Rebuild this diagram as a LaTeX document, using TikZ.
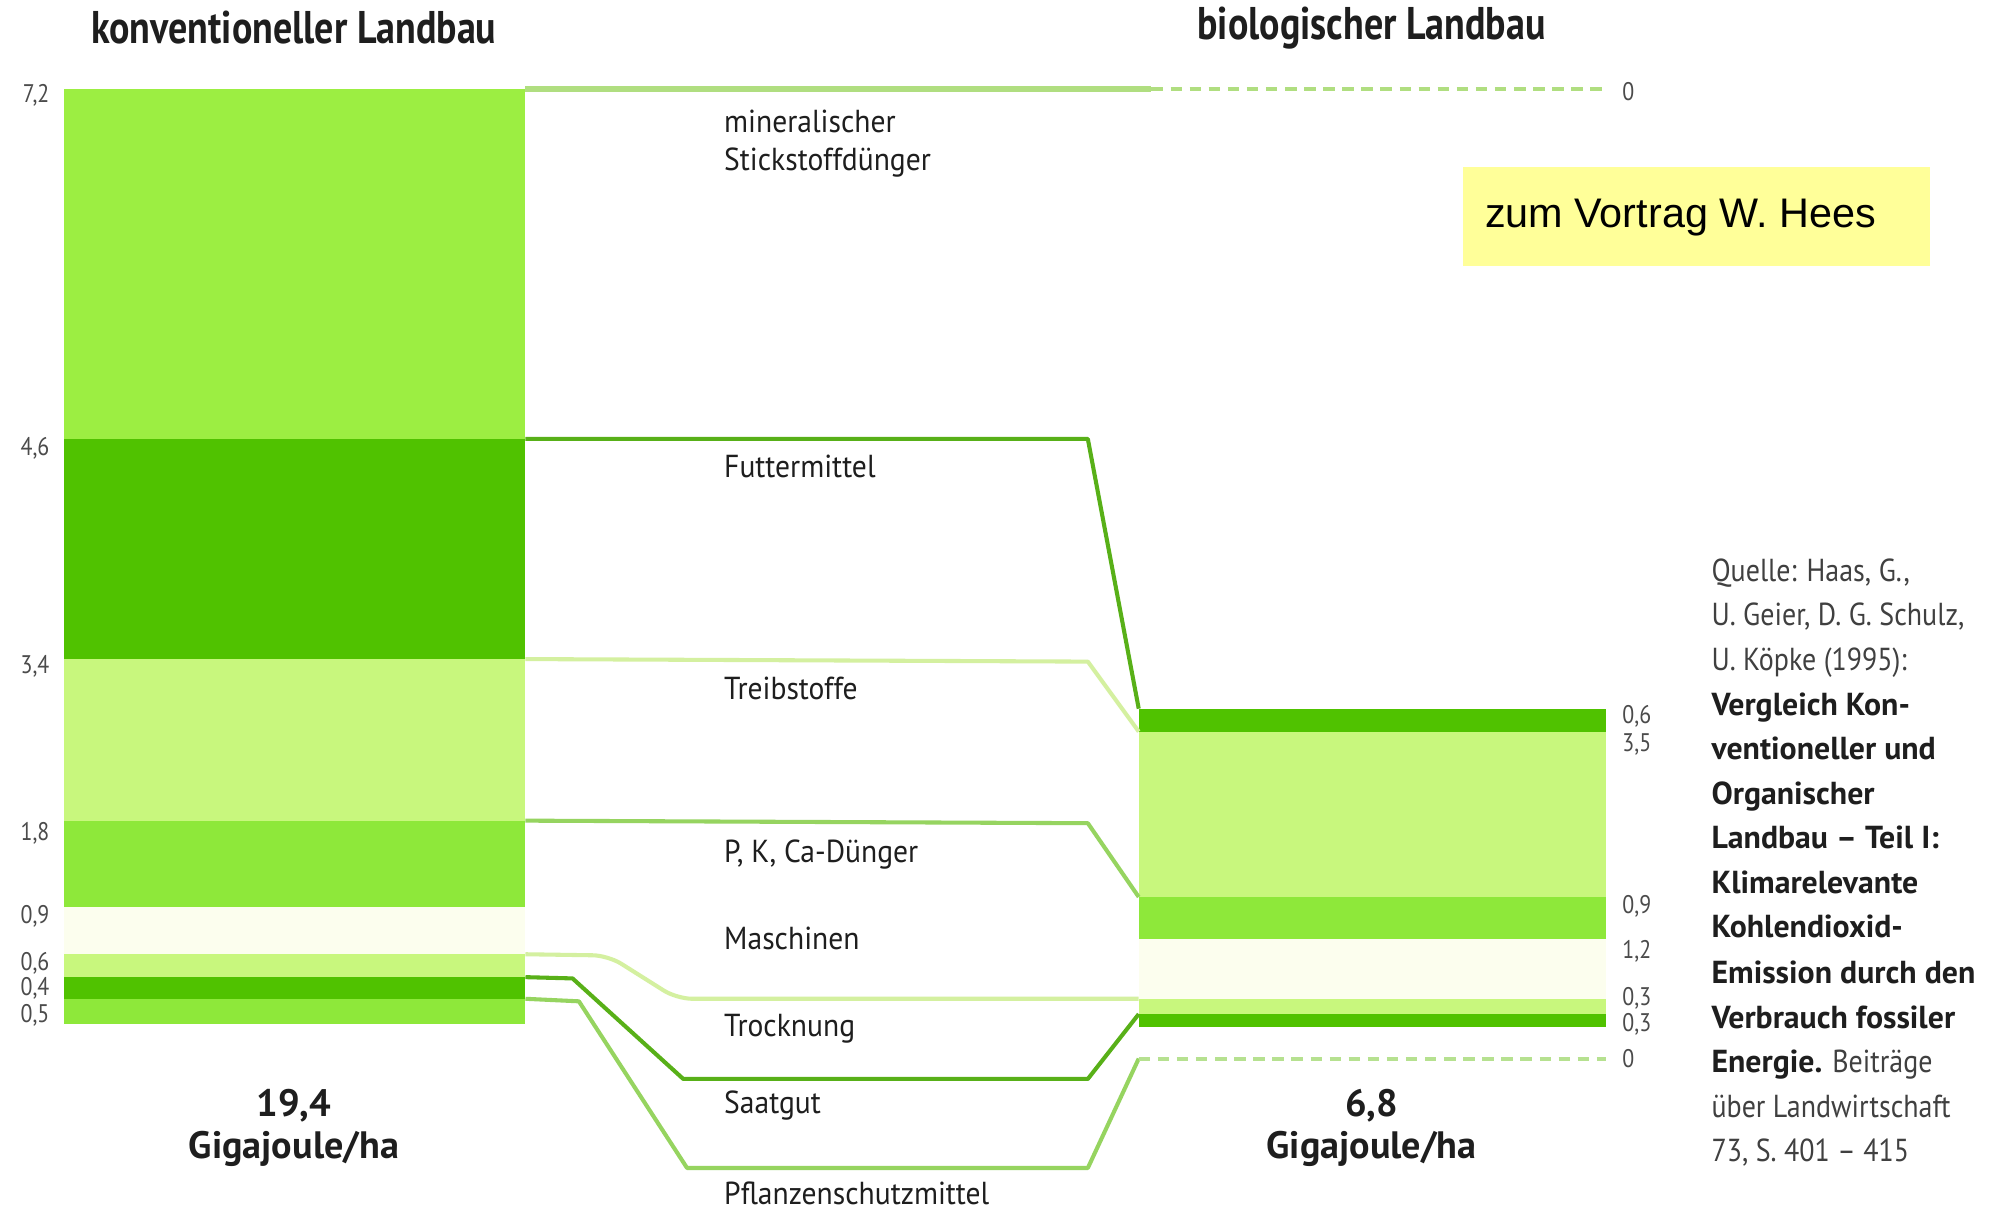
\documentclass[tikz,border=0pt]{standalone}
\usepackage{fontspec}
\setmainfont{PT Sans}
\newfontfamily\arialf{Liberation Sans}
\newfontfamily\condf{PT Sans}[FakeStretch=0.86]
\newfontfamily\titf{PT Sans}[FakeStretch=0.83]
\newfontfamily\catf{PT Sans}[FakeStretch=0.93]
\newfontfamily\srcf{PT Sans}[FakeStretch=0.88]
\newfontfamily\plainf{PT Sans}
\definecolor{cMin}{RGB}{156,238,66}
\definecolor{cDark}{RGB}{80,194,0}
\definecolor{cLight}{RGB}{200,247,125}
\definecolor{cMed}{RGB}{142,232,58}
\definecolor{cPale}{RGB}{252,254,238}
\definecolor{lnTop}{RGB}{176,222,128}
\definecolor{lnDark}{RGB}{88,176,24}
\definecolor{lnLight}{RGB}{212,240,160}
\definecolor{lnMed}{RGB}{150,212,96}
\definecolor{boxY}{RGB}{255,255,153}
\definecolor{txt}{RGB}{30,30,30}
\begin{document}
\begin{tikzpicture}[x=1pt,y=-1pt,
  band/.style={rectangle, inner sep=0pt, outer sep=0pt, draw=none, anchor=north west},
  lband/.style={band, minimum width=363pt},
  rband/.style={band, minimum width=367pt},
  flow/.style={line width=3.2pt, line join=round},
  zero/.style={line width=3.2pt, dash pattern=on 9pt off 6pt},
  title/.style={font=\titf\bfseries\fontsize{36}{38}\selectfont, text=txt},
  val/.style={font=\condf\fontsize{20}{22}\selectfont, text=txt!80, inner sep=0pt},
  cat/.style={font=\catf\fontsize{25}{27}\selectfont, text=txt, anchor=base west, inner sep=0pt},
  tot/.style={font=\plainf\bfseries\fontsize{30}{32}\selectfont, text=txt, inner sep=0pt},
  src/.style={font=\srcf\fontsize{25}{27}\selectfont, text=txt!85, anchor=base west, inner sep=0pt},
  srcb/.style={src, font=\plainf\bfseries\fontsize{25}{27}\selectfont, text=txt}
]
\useasboundingbox (0,0) rectangle (1568,952);
\fill[white] (0,0) rectangle (1568,952);

% titles
\node[title] (t1) at (231,22) {konventioneller Landbau};
\node[title] (t2) at (1078,22) {biologischer Landbau};

% left column
\node[lband, fill=cMin,   minimum height=275pt] (Lmin)   at (50,70)  {};
\node[lband, fill=cDark,  minimum height=173pt] (Lfut)   at (50,345) {};
\node[lband, fill=cLight, minimum height=127pt] (Ltreib) at (50,518) {};
\node[lband, fill=cMed,   minimum height=68pt]  (Lpk)    at (50,645) {};
\node[lband, fill=cPale,  minimum height=37pt]  (Lmasch) at (50,713) {};
\node[lband, fill=cLight, minimum height=18pt]  (Ltrock) at (50,750) {};
\node[lband, fill=cDark,  minimum height=17pt]  (Lsaat)  at (50,768) {};
\node[lband, fill=cMed,   minimum height=20pt]  (Lpfl)   at (50,785) {};

% right column
\node[rband, fill=cDark,  minimum height=18pt]  (Rfut)   at (895,557) {};
\node[rband, fill=cLight, minimum height=130pt] (Rtreib) at (895,575) {};
\node[rband, fill=cMed,   minimum height=33pt]  (Rpk)    at (895,705) {};
\node[rband, fill=cPale,  minimum height=47pt]  (Rmasch) at (895,738) {};
\node[rband, fill=cLight, minimum height=12pt]  (Rtrock) at (895,785) {};
\node[rband, fill=cDark,  minimum height=10pt]  (Rsaat)  at (895,797) {};

% helper coordinates
\coordinate (topA) at (905,70);
\coordinate (topB) at (1262,70);
\coordinate (futA) at (855,345);
\coordinate (trA)  at (855,520);
\coordinate (pkA)  at (855,647);
\coordinate (toA)  at (478,751);
\coordinate (toB)  at (532,785);
\coordinate (saA)  at (450,769);
\coordinate (saB)  at (537,848);
\coordinate (saC)  at (855,848);
\coordinate (pfA)  at (455,787);
\coordinate (pfB)  at (540,918);
\coordinate (pfC)  at (855,918);
\coordinate (pfD)  at (895,832);
\coordinate (pfE)  at (1262,832);

% connectors
\draw[flow, lnTop, line width=4.5pt] (Lmin.north east) -- (topA);
\draw[zero, lnTop] (topA) -- (topB);
\draw[flow, lnDark] (Lfut.north east) -- (futA) -- (Rfut.north west);
\draw[flow, lnLight] (Ltreib.north east) -- (trA) -- (Rtreib.north west);
\draw[flow, lnMed] (Lpk.north east) -- (pkA) -- (Rpk.north west);
\draw[flow, lnLight, rounded corners=12pt] (Ltrock.north east) -- (toA) -- (toB) -- (Rtrock.north west);
\draw[flow, lnDark] (Lsaat.north east) -- (saA) -- (saB) -- (saC) -- (Rsaat.north west);
\draw[flow, lnMed] (Lpfl.north east) -- (pfA) -- (pfB) -- (pfC) -- (pfD);
\draw[zero, lnMed!70] (pfD) -- (pfE);

% left values
\node[val, anchor=east] (v72) at (39,75)  {7,2};
\node[val, anchor=east] (v46) at (39,352) {4,6};
\node[val, anchor=east] (v34) at (39,524) {3,4};
\node[val, anchor=east] (v18) at (39,655) {1,8};
\node[val, anchor=east] (v09) at (39,720) {0,9};
\node[val, anchor=east] (v06) at (39,757) {0,6};
\node[val, anchor=east] (v04) at (39,777) {0,4};
\node[val, anchor=east] (v05) at (39,798) {0,5};

% right values
\node[val, anchor=west] (w0t) at (1275,72)  {0};
\node[val, anchor=west] (w06) at (1275,563) {0,6};
\node[val, anchor=west] (w35) at (1275,585) {3,5};
\node[val, anchor=west] (w09) at (1275,712) {0,9};
\node[val, anchor=west] (w12) at (1275,748) {1,2};
\node[val, anchor=west] (w03a) at (1275,785) {0,3};
\node[val, anchor=west] (w03b) at (1275,805) {0,3};
\node[val, anchor=west] (w0b) at (1275,832) {0};

% category labels
\node[cat] (c1a) at (569,104) {mineralischer};
\node[cat] (c1b) at (569,134) {Stickstoffdünger};
\node[cat] (c2) at (569,375) {Futtermittel};
\node[cat] (c3) at (569,550) {Treibstoffe};
\node[cat] (c4) at (569,678) {P, K, Ca-Dünger};
\node[cat] (c5) at (569,746) {Maschinen};
\node[cat] (c6) at (569,815) {Trocknung};
\node[cat] (c7) at (569,875) {Saatgut};
\node[cat] (c8) at (569,947) {Pflanzenschutzmittel};

% totals
\node[tot] (s1) at (231,869) {19,4};
\node[tot] (s2) at (231,903) {Gigajoule/ha};
\node[tot] (s3) at (1078,869) {6,8};
\node[tot] (s4) at (1078,903) {Gigajoule/ha};

% yellow box
\node[fill=boxY, anchor=north west, minimum width=367pt, minimum height=78pt, inner sep=0pt] (box) at (1150,131) {};
\node[font=\arialf\fontsize{32.5}{35}\selectfont, anchor=west, inner sep=0pt] (boxt) at (1167,171) {zum Vortrag W. Hees};

% source
\node[src]  (q1)  at (1345,457) {Quelle: Haas, G.,};
\node[src]  (q2)  at (1345,492) {U. Geier, D. G. Schulz,};
\node[src]  (q3)  at (1345,527) {U. Köpke (1995):};
\node[srcb] (q4)  at (1345,562) {Vergleich Kon-};
\node[srcb] (q5)  at (1345,597) {ventioneller und};
\node[srcb] (q6)  at (1345,632) {Organischer};
\node[srcb] (q7)  at (1345,667) {Landbau – Teil I:};
\node[srcb] (q8)  at (1345,702) {Klimarelevante};
\node[srcb] (q9)  at (1345,737) {Kohlendioxid-};
\node[srcb] (q10) at (1345,773) {Emission durch den};
\node[srcb] (q11) at (1345,808) {Verbrauch fossiler};
\node[src]  (q12) at (1345,843) {{\plainf\bfseries\color{txt}Energie.} Beiträge};
\node[src]  (q13) at (1345,878) {über Landwirtschaft};
\node[src]  (q14) at (1345,913) {73, S. 401 – 415};
\end{tikzpicture}
\end{document}
